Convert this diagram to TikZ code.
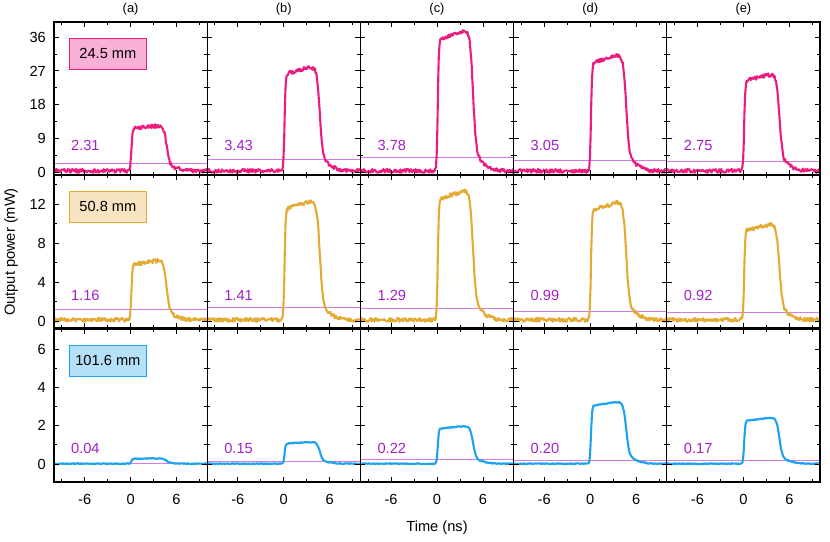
\documentclass[tikz,border=0pt]{standalone}
\usepackage{fontspec}
\setmainfont{Liberation Sans}
\usetikzlibrary{calc}

\definecolor{pinkline}{HTML}{EC1C7E}
\definecolor{pinkfill}{HTML}{F8B0D6}
\definecolor{goldline}{HTML}{E3AA34}
\definecolor{goldfill}{HTML}{F9E4C2}
\definecolor{blueline}{HTML}{1DA2EE}
\definecolor{bluefill}{HTML}{B4E1F9}
\definecolor{thrline}{HTML}{D47AE6}
\definecolor{thrtext}{HTML}{A21FC9}

\tikzset{
  declare function={sig(\t)=1/(1+exp(-min(max(\t,-9),9)));
    pulse(\t,\a)=\a*(0.86*sig(-5*(\t-4.7))+0.12*sig(-1.6*(\t-5.9)))*sig(14*(\t-0.1))*(0.93+0.02*min(max(\t,0),5));},
  frame/.style={line width=1pt},
  tick/.style={line width=0.7pt},
  thr/.style={thrline, line width=0.6pt},
  lenbox/.style={draw=#1line, fill=#1fill, line width=0.7pt, minimum width=77*0.03cm,
    minimum height=31*0.03cm, anchor=north west, inner sep=0pt},
}

% one panel: left, top, zero y (px), px per unit, peak, threshold, colour, noise
\newcommand{\drawpanel}[8]{%
  \begin{scope}
    \clip (#1,#2) rectangle ++(153.2,153);
    \begin{scope}[shift={(#1+76.6,#3)}, xscale=7.66, yscale=-#4]
      \draw[thr] (-10,#6) -- (10,#6);
      \draw[#7line, line width=1.8pt, line join=round]
        plot[domain=-10:10, samples=220] (\x, {pulse(\x,#5)+#8*(0.6+rand)});
    \end{scope}
  \end{scope}
  \foreach \t in {-9,-6,...,9} {
    \pgfmathsetmacro{\tl}{mod(\t,6)==0 ? 5 : 3}
    \draw[tick] (#1+76.6+7.66*\t,#2+153) -- ++(0,-\tl);
    \draw[tick] (#1+76.6+7.66*\t,#2) -- ++(0,\tl);
  }
  \draw[frame] (#1,#2) rectangle ++(153.2,153);
}

\begin{document}
\begin{tikzpicture}[x=0.03cm, y=-0.03cm, font=\fontsize{12.5}{15}\selectfont]
  \useasboundingbox (0,0) rectangle (830,542);
  \pgfmathsetseed{7}

  \foreach \c/\lab/\pa/\pb/\pc/\ta/\tb/\tc in
      {0/a/12.3/6.2/0.28/2.31/1.16/0.04, 1/b/28.3/12.4/1.15/3.43/1.41/0.15,
       2/c/38.3/13.5/2.0/3.78/1.29/0.22, 3/d/31.5/12.3/3.3/3.05/0.99/0.20,
       4/e/26.3/10.0/2.45/2.75/0.92/0.17} {
    \pgfmathsetmacro{\xl}{54+153.2*\c}
    \drawpanel{\xl}{22}{172}{3.744}{\pa}{\ta}{pink}{0.5}
    \drawpanel{\xl}{175}{321}{9.75}{\pb}{\tb}{gold}{0.2}
    \drawpanel{\xl}{329}{464}{19.15}{\pc}{\tc}{blue}{0.025}
    \node[thrtext, anchor=west] (ta\c) at (\xl+13,145) {\ta};
    \node[thrtext, anchor=west] (tb\c) at (\xl+13,295) {\tb};
    \node[thrtext, anchor=west] (tc\c) at (\xl+13,448) {\tc};
    \node[font=\fontsize{11}{13}\selectfont] (col\c) at (\xl+76.6,9) {(\lab)};
    \foreach \t in {-6,0,6}
      \node (xt\c\t) at (\xl+76.6+7.66*\t,499) {\t};
    % y ticks on both sides of every panel
    \foreach \v/\l in {0/5,4.5/3,9/5,13.5/3,18/5,22.5/3,27/5,31.5/3,36/5} {
      \draw[tick] (\xl,172-3.744*\v) -- ++(\l,0);
      \draw[tick] (\xl+153.2,172-3.744*\v) -- ++(-\l,0);
    }
    \foreach \v/\l in {0/5,2/3,4/5,6/3,8/5,10/3,12/5,14/3} {
      \draw[tick] (\xl,321-9.75*\v) -- ++(\l,0);
      \draw[tick] (\xl+153.2,321-9.75*\v) -- ++(-\l,0);
    }
    \foreach \v/\l in {0/5,1/3,2/5,3/3,4/5,5/3,6/5} {
      \draw[tick] (\xl,464-19.15*\v) -- ++(\l,0);
      \draw[tick] (\xl+153.2,464-19.15*\v) -- ++(-\l,0);
    }
  }

  % y tick labels
  \foreach \v in {0,9,18,27,36}
    \node[anchor=east] (ya\v) at (50,172-3.744*\v) {\v};
  \foreach \v in {0,4,8,12}
    \node[anchor=east] (yb\v) at (50,321-9.75*\v) {\v};
  \foreach \v in {0,2,4,6}
    \node[anchor=east] (yc\v) at (50,464-19.15*\v) {\v};

  % distance boxes
  \node[lenbox=pink] (boxa) at (69,38) {24.5 mm};
  \node[lenbox=gold] (boxb) at (69,191) {50.8 mm};
  \node[lenbox=blue] (boxc) at (69,345) {101.6 mm};

  \node (xlabel) at (437,528) {Time (ns)};
  \node[rotate=90] (ylabel) at (11,252) {Output power (mW)};
\end{tikzpicture}
\end{document}
